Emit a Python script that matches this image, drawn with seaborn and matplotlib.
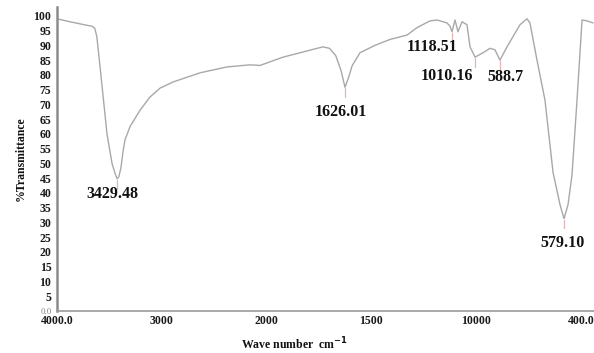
import matplotlib
matplotlib.use("Agg")
import matplotlib.pyplot as plt
import seaborn as sns
import pandas as pd

# Spectrum, x given in evenly spaced axis-tick units (0 = "4000.0" tick, 5 = "400.0" tick)
position = [0.000, 0.124, 0.286, 0.334, 0.360, 0.380, 0.410, 0.448, 0.477, 0.525,
            0.555, 0.573, 0.590, 0.610, 0.630, 0.649, 0.697, 0.792, 0.887, 0.983,
            1.107, 1.365, 1.622, 1.842, 1.937, 2.156, 2.319, 2.538, 2.600, 2.660,
            2.710, 2.748, 2.786, 2.815, 2.891, 3.034, 3.177, 3.340, 3.435, 3.559,
            3.626, 3.721, 3.750, 3.769, 3.798, 3.826, 3.865, 3.912, 3.941, 3.989,
            4.065, 4.132, 4.179, 4.227, 4.294, 4.418, 4.485, 4.513, 4.580, 4.656,
            4.733, 4.800, 4.838, 4.876, 4.914, 4.962, 5.010, 5.057, 5.115]
transmittance = [99.0, 98.0, 96.8, 96.5, 95.8, 93.0, 83.0, 70.0, 60.0, 50.0,
                 46.5, 44.8, 45.5, 48.5, 54.0, 58.0, 62.5, 68.0, 72.5, 75.5,
                 77.6, 80.7, 82.7, 83.4, 83.2, 86.0, 87.5, 89.5, 89.0, 86.5,
                 81.5, 75.8, 79.5, 83.0, 87.5, 90.0, 92.0, 93.5, 96.0, 98.3,
                 98.6, 97.6, 96.5, 94.6, 98.6, 94.6, 98.0, 97.0, 89.5, 86.0,
                 87.5, 89.0, 88.5, 85.0, 89.5, 97.0, 99.0, 97.6, 85.0, 71.5,
                 47.0, 36.0, 31.3, 36.0, 46.0, 71.5, 98.6, 98.3, 97.6]

# Peak annotations
peak_pos = [0.573, 2.748, 3.769, 3.989, 4.227, 4.838]
peak_T = [44.8, 75.8, 94.6, 86.0, 85.0, 31.3]
peak_labels = ["3429.48", "1626.01", "1118.51", "1010.16", "588.7", "579.10"]
label_pos = [0.525, 2.710, 3.578, 3.722, 4.275, 4.820]
label_T = [39.5, 67.5, 89.5, 79.5, 79.2, 23.0]

# Axis ticks
xtick_pos = [0, 1, 2, 3, 4, 5]
xtick_labels = ["4000.0", "3000", "2000", "1500", "10000", "400.0"]
ytick_vals = list(range(0, 101, 5))
ytick_labels = ["0.0"] + [str(v) for v in range(5, 101, 5)]

sns.set_theme(style="white")
plt.rcParams["font.family"] = ["Liberation Serif", "DejaVu Serif"]

fig = plt.figure(figsize=(5.94, 3.53), dpi=100)
ax = fig.add_axes([57 / 594, (353 - 311) / 353, (594 - 57) / 594, (311 - 7) / 353])

df = pd.DataFrame({"pos": position, "T": transmittance})
sns.lineplot(data=df, x="pos", y="T", sort=False, color="#a8a8a8", linewidth=1.0, ax=ax)

for px, pt in zip(peak_pos, peak_T):
    ax.plot([px, px], [pt - 0.3, pt - 3.3], color="#e2b4b4", linewidth=0.9)
for lx, ly, txt in zip(label_pos, label_T, peak_labels):
    ax.text(lx, ly, txt, ha="center", va="center", fontsize=11.5, fontweight="bold", color="#111111")

ax.set_xlim(0, 5.124)
ax.set_ylim(0, 103)
ax.set_xticks(xtick_pos)
ax.set_xticklabels(xtick_labels, fontsize=8.5, fontweight="bold", color="#1a1a1a")
ax.set_yticks(ytick_vals)
ax.set_yticklabels(ytick_labels, fontsize=8.5, fontweight="bold", color="#1a1a1a")
ax.get_yticklabels()[0].set_fontweight("normal")
ax.get_yticklabels()[0].set_fontsize(6.5)
ax.get_yticklabels()[0].set_color("#888888")
ax.tick_params(axis="both", length=2, width=0.6, color="#999999", pad=2)
ax.tick_params(axis="x", direction="in", pad=3)

for s in ["top", "right"]:
    ax.spines[s].set_visible(False)
ax.spines["left"].set_color("#8c8c8c")
ax.spines["left"].set_linewidth(1.8)
ax.spines["bottom"].set_color("#9a9a9a")
ax.spines["bottom"].set_linewidth(1.2)

ax.set_ylabel("%Transmittance", fontsize=8.5, fontweight="bold", labelpad=5, color="#111111")
ax.set_xlabel("Wave number  cm$^{\\mathbf{-1}}$", fontsize=8.5, fontweight="bold", color="#111111")
ax.xaxis.label.set_va("center")
ax.xaxis.set_label_coords(0.441, -0.108)

fig.savefig("out.png", dpi=100)
